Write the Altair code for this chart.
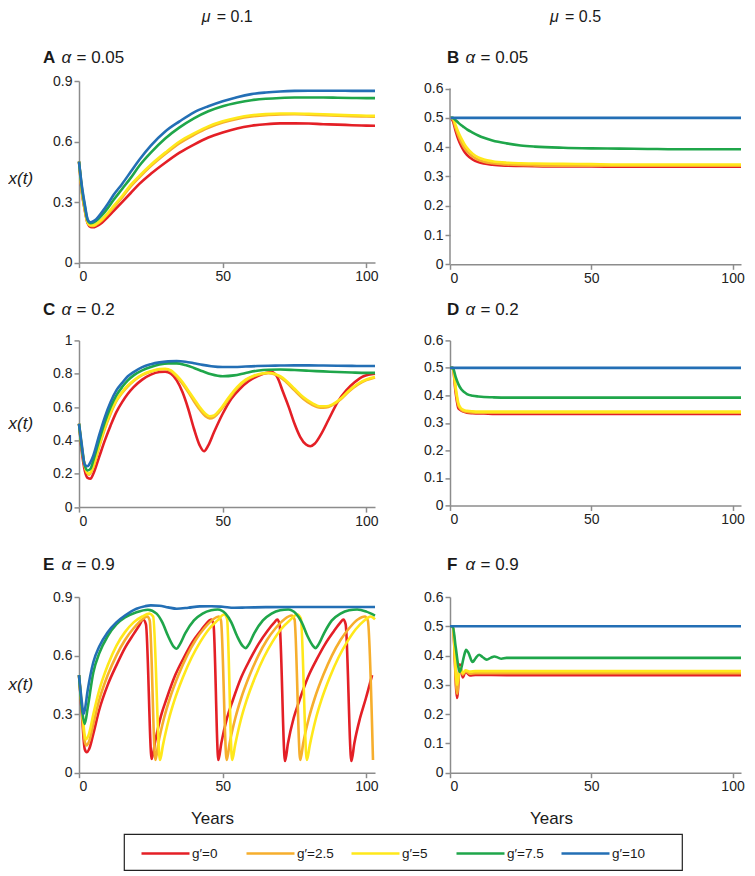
import altair as alt
import pandas as pd

FONT = "Liberation Sans"
SERIES = ["g′=0", "g′=2.5", "g′=5", "g′=7.5", "g′=10"]
COLORS = ["#e41f26", "#f6ae2d", "#ffe81a", "#1fa64a", "#236fb5"]

# ---------------- Panel A (mu=0.1, alpha=0.05)
A_T = [0, 1, 2, 3, 4, 5, 6, 8, 10, 12, 15, 18, 21, 25, 30, 35, 40, 45, 50, 55, 60, 65, 70, 75, 80, 85, 90, 95, 100, 103]
A_RED = [0.5, 0.35, 0.26, 0.195, 0.177, 0.175, 0.18, 0.198, 0.225, 0.255, 0.3, 0.345, 0.39, 0.44, 0.495, 0.545, 0.585, 0.62, 0.645, 0.665, 0.678, 0.686, 0.69, 0.69, 0.689, 0.686, 0.684, 0.681, 0.679, 0.678]
A_ORANGE = [0.5, 0.355, 0.265, 0.198, 0.183, 0.182, 0.188, 0.21, 0.24, 0.274, 0.323, 0.378, 0.423, 0.478, 0.538, 0.592, 0.633, 0.668, 0.694, 0.712, 0.724, 0.731, 0.734, 0.735, 0.733, 0.731, 0.728, 0.726, 0.724, 0.723]
A_YELLOW = [0.5, 0.36, 0.27, 0.2, 0.185, 0.185, 0.192, 0.215, 0.245, 0.28, 0.33, 0.385, 0.43, 0.485, 0.545, 0.6, 0.64, 0.675, 0.70, 0.718, 0.73, 0.736, 0.739, 0.739, 0.737, 0.735, 0.732, 0.73, 0.728, 0.727]
A_GREEN = [0.5, 0.37, 0.28, 0.21, 0.195, 0.198, 0.207, 0.235, 0.27, 0.31, 0.365, 0.42, 0.48, 0.545, 0.615, 0.67, 0.715, 0.75, 0.775, 0.792, 0.805, 0.812, 0.816, 0.818, 0.818, 0.818, 0.817, 0.816, 0.815, 0.815]
A_BLUE = [0.5, 0.38, 0.29, 0.215, 0.2, 0.205, 0.215, 0.25, 0.29, 0.335, 0.39, 0.45, 0.51, 0.58, 0.65, 0.70, 0.745, 0.775, 0.80, 0.82, 0.835, 0.843, 0.848, 0.851, 0.852, 0.852, 0.852, 0.851, 0.851, 0.851]

# ---------------- Panel B (mu=0.5, alpha=0.05)
B_T = [0, 1, 2, 3, 4, 5, 6, 8, 10, 12, 15, 20, 25, 30, 40, 50, 60, 70, 80, 90, 100, 103]
B_RED = [0.5, 0.49, 0.455, 0.425, 0.403, 0.386, 0.374, 0.358, 0.349, 0.344, 0.34, 0.337, 0.336, 0.335, 0.334, 0.334, 0.333, 0.333, 0.333, 0.333, 0.333, 0.333]
B_ORANGE = [0.5, 0.495, 0.465, 0.438, 0.416, 0.399, 0.386, 0.368, 0.357, 0.35, 0.345, 0.341, 0.339, 0.338, 0.337, 0.337, 0.337, 0.337, 0.337, 0.337, 0.337, 0.337]
B_YELLOW = [0.5, 0.5, 0.475, 0.45, 0.43, 0.412, 0.398, 0.378, 0.365, 0.358, 0.352, 0.347, 0.345, 0.344, 0.343, 0.342, 0.341, 0.341, 0.341, 0.341, 0.341, 0.341]
B_GREEN = [0.5, 0.5, 0.492, 0.483, 0.475, 0.468, 0.461, 0.45, 0.44, 0.432, 0.423, 0.413, 0.406, 0.402, 0.398, 0.396, 0.395, 0.394, 0.393, 0.393, 0.393, 0.393]
FLAT_T = [0, 103]
FLAT_BLUE = [0.5, 0.5]

# ---------------- Panel C (mu=0.1, alpha=0.2)
C_RED_T = [0, 1, 2, 3, 4, 5, 7, 9, 11, 13, 15, 17, 19, 22, 25, 28, 30, 32, 34, 36, 38, 40, 42, 43.5, 45, 47, 50, 53, 56, 59, 62, 65, 67, 69, 71, 73, 75, 77, 79, 80.5, 82, 84, 87, 90, 93, 96, 99, 103]
C_RED = [0.5, 0.33, 0.22, 0.175, 0.17, 0.2, 0.3, 0.4, 0.49, 0.57, 0.63, 0.68, 0.72, 0.765, 0.795, 0.81, 0.812, 0.8, 0.76, 0.69, 0.59, 0.47, 0.37, 0.335, 0.37, 0.45, 0.56, 0.65, 0.71, 0.755, 0.785, 0.805, 0.81, 0.78, 0.69, 0.6, 0.5, 0.42, 0.375, 0.365, 0.38, 0.43, 0.53, 0.63, 0.7, 0.75, 0.785, 0.80]
C_YEL_T = [0, 1, 2, 3, 3.5, 5, 7, 9, 11, 13, 15, 17, 19, 22, 25, 28, 30, 32, 34, 36, 38, 40, 42, 44, 45.5, 47, 49, 52, 55, 58, 61, 64, 66, 68, 70, 72, 75, 78, 81, 84, 86, 88, 91, 94, 97, 100, 103]
C_ORANGE = [0.5, 0.355, 0.245, 0.2, 0.195, 0.24, 0.36, 0.47, 0.56, 0.635, 0.685, 0.725, 0.757, 0.792, 0.812, 0.825, 0.827, 0.815, 0.783, 0.74, 0.69, 0.635, 0.585, 0.545, 0.532, 0.54, 0.575, 0.645, 0.712, 0.76, 0.786, 0.8, 0.803, 0.797, 0.78, 0.752, 0.7, 0.65, 0.615, 0.597, 0.598, 0.61, 0.645, 0.695, 0.735, 0.762, 0.778]
C_YELLOW = [0.5, 0.36, 0.25, 0.205, 0.2, 0.25, 0.37, 0.48, 0.57, 0.64, 0.69, 0.73, 0.76, 0.795, 0.815, 0.828, 0.83, 0.82, 0.79, 0.75, 0.7, 0.65, 0.6, 0.56, 0.545, 0.55, 0.585, 0.655, 0.72, 0.765, 0.79, 0.803, 0.806, 0.8, 0.785, 0.76, 0.71, 0.66, 0.625, 0.605, 0.605, 0.615, 0.65, 0.7, 0.74, 0.765, 0.78]
C_GB_T = [0, 1, 2, 3, 4, 5, 7, 9, 11, 13, 15, 17, 19, 22, 25, 28, 31, 34, 37, 40, 43, 46, 50, 54, 58, 62, 66, 70, 75, 80, 85, 90, 95, 100, 103]
C_GREEN = [0.5, 0.35, 0.25, 0.22, 0.23, 0.28, 0.4, 0.51, 0.6, 0.67, 0.72, 0.76, 0.79, 0.82, 0.84, 0.855, 0.862, 0.862, 0.852, 0.835, 0.815, 0.797, 0.785, 0.79, 0.805, 0.818, 0.824, 0.825, 0.822, 0.818, 0.814, 0.81, 0.807, 0.805, 0.805]
C_BLUE = [0.5, 0.37, 0.255, 0.245, 0.27, 0.31, 0.43, 0.54, 0.63, 0.7, 0.745, 0.785, 0.81, 0.84, 0.857, 0.868, 0.874, 0.876, 0.872, 0.863, 0.853, 0.845, 0.84, 0.84, 0.843, 0.846, 0.848, 0.849, 0.85, 0.85, 0.849, 0.848, 0.847, 0.846, 0.846]

# ---------------- Panel D (mu=0.5, alpha=0.2)
D_T = [0, 1, 2, 3, 4, 5, 6, 8, 10, 12, 15, 20, 30, 50, 103]
D_RED = [0.5, 0.5, 0.41, 0.352, 0.345, 0.34, 0.337, 0.335, 0.334, 0.334, 0.333, 0.333, 0.333, 0.333, 0.333]
D_ORANGE = [0.5, 0.5, 0.42, 0.362, 0.348, 0.342, 0.34, 0.338, 0.337, 0.337, 0.337, 0.337, 0.337, 0.337, 0.337]
D_YELLOW = [0.5, 0.5, 0.43, 0.37, 0.352, 0.346, 0.344, 0.342, 0.341, 0.341, 0.341, 0.341, 0.341, 0.341, 0.341]
D_GREEN = [0.5, 0.5, 0.467, 0.44, 0.422, 0.412, 0.405, 0.399, 0.396, 0.394, 0.393, 0.392, 0.392, 0.392, 0.392]

# ---------------- Panel E (mu=0.1, alpha=0.9)
E_RED_T = [0, 1, 2, 2.7, 3.5, 5, 7, 10, 13, 16, 19, 21, 22.3, 23.3, 25.3,
           26.5, 28.5, 30.5, 33.5, 36.5, 39.5, 42.5, 45, 46, 46.8, 48.5,
           49.5, 51.5, 53.5, 56.5, 59.5, 62.5, 65.5, 68, 69, 69.8, 71.7,
           72.7, 74.7, 76.7, 79.7, 82.7, 85.7, 88.7, 91, 92, 92.8, 94.8,
           95.8, 97.8, 99.8, 102]
E_RED = [0.5, 0.3, 0.12, 0.105, 0.12, 0.2, 0.32, 0.45, 0.55, 0.64, 0.71, 0.755, 0.785, 0.76, 0.07,
         0.16, 0.29, 0.38, 0.5, 0.59, 0.67, 0.73, 0.775, 0.785, 0.76, 0.065,
         0.15, 0.28, 0.37, 0.49, 0.58, 0.66, 0.725, 0.77, 0.785, 0.76, 0.06,
         0.15, 0.28, 0.37, 0.49, 0.58, 0.66, 0.725, 0.77, 0.785, 0.76, 0.06,
         0.15, 0.28, 0.38, 0.5]
E_ORA_T = [0, 1, 2, 2.6, 3.5, 5, 7, 10, 13, 16, 19, 22, 23.8, 24.6, 26.6,
           27.6, 29.6, 31.6, 34.6, 37.6, 40.6, 43.6, 46.6, 48.6, 49.4, 51.4,
           52.4, 54.4, 56.4, 59.4, 62.4, 65.4, 68.4, 71.4, 74, 75, 77,
           78, 80, 82, 85, 88, 91, 94, 97, 99.5, 100.5, 102.3]
E_ORANGE = [0.5, 0.32, 0.16, 0.14, 0.16, 0.25, 0.37, 0.5, 0.6, 0.68, 0.74, 0.785, 0.8, 0.78, 0.065,
            0.15, 0.28, 0.38, 0.5, 0.6, 0.68, 0.74, 0.785, 0.8, 0.78, 0.065,
            0.15, 0.28, 0.38, 0.5, 0.6, 0.68, 0.74, 0.785, 0.805, 0.785, 0.065,
            0.15, 0.28, 0.38, 0.5, 0.6, 0.68, 0.74, 0.785, 0.8, 0.78, 0.065]
E_YEL_T = [0, 1, 2, 2.4, 3.5, 5, 7, 10, 13, 16, 19, 22, 24.5, 25.8, 28.2,
           29.2, 31.2, 33.2, 36.2, 39.2, 42.2, 45.2, 48.2, 50.5, 51.5, 53.3,
           54.3, 56.3, 58.3, 61.3, 64.3, 67.3, 70.3, 73.3, 76, 77.2, 79.3,
           80.3, 82.3, 84.3, 87.3, 90.3, 93.3, 96.3, 99.3, 101.5, 103]
E_YELLOW = [0.5, 0.34, 0.19, 0.17, 0.2, 0.3, 0.42, 0.55, 0.65, 0.72, 0.77, 0.8, 0.815, 0.8, 0.065,
            0.14, 0.27, 0.37, 0.49, 0.59, 0.67, 0.735, 0.78, 0.81, 0.79, 0.065,
            0.14, 0.27, 0.37, 0.49, 0.59, 0.67, 0.735, 0.78, 0.81, 0.79, 0.065,
            0.14, 0.27, 0.37, 0.49, 0.59, 0.67, 0.735, 0.78, 0.8, 0.785]
E_GRN_T = [0, 1, 2, 3, 5, 7, 10, 13, 16, 20, 24,
           27, 29, 31, 33, 34, 35, 37, 40, 43, 46, 48.3,
           51, 53, 55, 57, 58, 59, 61, 64, 67, 70, 72.8,
           75.5, 77.5, 79.5, 81.5, 82.3, 83.3, 85.3, 88, 91, 94, 96.8, 100, 103]
E_GREEN = [0.5, 0.33, 0.25, 0.33, 0.515, 0.61, 0.7, 0.76, 0.795, 0.822, 0.835,
           0.815, 0.77, 0.7, 0.645, 0.635, 0.655, 0.715, 0.78, 0.815, 0.832, 0.836,
           0.815, 0.77, 0.7, 0.648, 0.638, 0.655, 0.715, 0.78, 0.815, 0.832, 0.836,
           0.815, 0.77, 0.7, 0.648, 0.638, 0.655, 0.715, 0.78, 0.815, 0.832, 0.836, 0.825, 0.805]
E_BLU_T = [0, 1, 1.5, 2, 3, 5, 7, 10, 13, 16, 20, 23, 25, 28, 31, 34, 38, 42, 46, 50, 54, 58, 65, 75, 85, 95, 103]
E_BLUE = [0.5, 0.36, 0.3, 0.32, 0.42, 0.567, 0.645, 0.72, 0.77, 0.805, 0.84, 0.853, 0.857, 0.855, 0.847, 0.84, 0.845, 0.852, 0.853, 0.85, 0.845, 0.846, 0.848, 0.849, 0.849, 0.849, 0.849]

# ---------------- Panel F (mu=0.5, alpha=0.9)
F_GRN_T = [0, 1, 2, 3.5, 5, 5.7, 6.5, 8, 9, 10.3, 11.5, 13, 14.5, 15.7, 17, 18.2, 20, 30, 60, 103]
F_GREEN = [0.5, 0.5, 0.43, 0.344, 0.4, 0.42, 0.41, 0.378, 0.39, 0.403, 0.395, 0.386, 0.393, 0.397, 0.393, 0.389, 0.392, 0.392, 0.392, 0.392]
F_T = [0, 1, 2.5, 3.5, 4.5, 5.5, 7, 9, 20, 103]
F_RED = [0.5, 0.5, 0.255, 0.37, 0.325, 0.345, 0.332, 0.334, 0.333, 0.333]
F_ORANGE = [0.5, 0.5, 0.27, 0.36, 0.335, 0.347, 0.338, 0.34, 0.34, 0.34]
F_YELLOW = [0.5, 0.5, 0.3, 0.36, 0.34, 0.35, 0.345, 0.347, 0.347, 0.347]

Y_09 = [0, 0.3, 0.6, 0.9]
Y_06 = [0, 0.1, 0.2, 0.3, 0.4, 0.5, 0.6]
Y_10 = [0, 0.2, 0.4, 0.6, 0.8, 1]

AXIS_GREY = "#8c8c8c"
INK = "#1a1a1a"
COLOR_SCALE = alt.Scale(domain=SERIES, range=COLORS)


def frame(pairs):
    rows = []
    for k, (ts, vs) in enumerate(pairs):
        for t, v in zip(ts, vs):
            rows.append({"t": t, "v": v, "s": SERIES[k]})
    return pd.DataFrame(rows)


def txt(s, x, y, size=17, weight="normal", style="normal"):
    return alt.Chart(pd.DataFrame({"lab": [s]})).mark_text(
        align="left", baseline="alphabetic", font=FONT, fontSize=size,
        fontWeight=weight, fontStyle=style, color=INK,
    ).encode(text="lab:N", x=alt.value(x), y=alt.value(y))


def panel(df, ydom, yvals, letter, alpha, w, h, lx, ly, left, bottom,
          mu=None, mux=0, muy=0, tdy=0, yearsx=None, axis_top=None):
    xa = dict(values=[0, 50, 100], title="Years" if bottom else None,
              titleFont=FONT, titleFontSize=17, titleFontWeight="normal",
              titleColor=INK, titlePadding=17)
    if yearsx is not None:
        xa["titleX"] = yearsx
    ya = dict(values=yvals, format="~g", title="x(t)" if left else None,
              titleAngle=0, titleX=-58.7, titleY=h / 2 + tdy, titleAlign="center",
              titleBaseline="middle", titleFont=FONT, titleFontSize=17,
              titleFontStyle="italic", titleFontWeight="normal", titleColor=INK)
    if axis_top is not None:
        ya["domain"] = False
    xscale = alt.Scale(domain=[0, 103], nice=False, zero=False)
    yscale = alt.Scale(domain=ydom, nice=False)
    lines = alt.Chart(df).mark_line(strokeWidth=2.6, interpolate="monotone").encode(
        x=alt.X("t:Q", scale=xscale, axis=alt.Axis(**xa)),
        y=alt.Y("v:Q", scale=yscale, axis=alt.Axis(**ya)),
        color=alt.Color("s:N", scale=COLOR_SCALE, legend=None),
    )
    layers = [lines]
    if axis_top is not None:
        # y-axis line that stops at the top tick, as in the original figure
        layers.append(alt.Chart(pd.DataFrame({"v": [0], "v2": [axis_top]})).mark_rule(
            color=AXIS_GREY, strokeWidth=1.5).encode(
                x=alt.value(0), y=alt.Y("v:Q", scale=yscale, axis=alt.Axis(**ya)), y2="v2:Q"))
    layers += [txt(letter, lx, ly, weight="bold"),
               txt("α", lx + 18.5, ly, style="italic"),
               txt("= " + alpha, lx + 33.5, ly)]
    if mu is not None:
        layers += [txt("μ", mux, muy, size=16, style="italic"),
                   txt("= " + mu, mux + 15, muy, size=16)]
    return alt.layer(*layers).properties(width=w, height=h)


WL, WR = 296, 291

pA = panel(frame([(A_T, A_RED), (A_T, A_ORANGE), (A_T, A_YELLOW), (A_T, A_GREEN), (A_T, A_BLUE)]),
           [0, 0.9], Y_09, "A", "0.05", WL, 181.6, -36, -18.4, True, False, "0.1", 122.7, -59.4, 7)
pB = panel(frame([(B_T, B_RED), (B_T, B_ORANGE), (B_T, B_YELLOW), (B_T, B_GREEN), (FLAT_T, FLAT_BLUE)]),
           [0, 0.626], Y_06, "B", "0.05", WR, 183.3, -3, -18.4, False, False, "0.5", 100, -59.4,
           axis_top=0.6)
pC = panel(frame([(C_RED_T, C_RED), (C_YEL_T, C_ORANGE), (C_YEL_T, C_YELLOW), (C_GB_T, C_GREEN), (C_GB_T, C_BLUE)]),
           [0, 1], Y_10, "C", "0.2", WL, 166.7, -36, -25, True, False)
pD = panel(frame([(D_T, D_RED), (D_T, D_ORANGE), (D_T, D_YELLOW), (D_T, D_GREEN), (FLAT_T, FLAT_BLUE)]),
           [0, 0.6], Y_06, "D", "0.2", WR, 165, -3, -25, False, False)
pE = panel(frame([(E_RED_T, E_RED), (E_ORA_T, E_ORANGE), (E_YEL_T, E_YELLOW), (E_GRN_T, E_GREEN), (E_BLU_T, E_BLUE)]),
           [0, 0.9], Y_09, "E", "0.9", WL, 175.7, -36, -26.7, True, True, yearsx=133)
pF = panel(frame([(F_T, F_RED), (F_T, F_ORANGE), (F_T, F_YELLOW), (F_GRN_T, F_GREEN), (FLAT_T, FLAT_BLUE)]),
           [0, 0.6], Y_06, "F", "0.9", WR, 175.7, -3, -26.7, False, True, yearsx=101)

row1 = alt.hconcat(pA, pB, spacing=42)
row2 = alt.hconcat(pC, pD, spacing=42)
row3 = alt.hconcat(pE, pF, spacing=42)
grid = alt.vconcat(alt.vconcat(row1, row2, spacing=15.4), row3, spacing=27)

# legend: a small unit whose frame is the legend box
leg_unit = alt.Chart(pd.DataFrame({"s": SERIES})).mark_line(strokeWidth=2.6).encode(
    x=alt.value(0), y=alt.value(0),
    color=alt.Color("s:N", scale=COLOR_SCALE, legend=alt.Legend(
        orient="none", legendX=16, legendY=-6, direction="horizontal", title=None,
        symbolType="stroke", symbolSize=2304, symbolStrokeWidth=2.6,
        labelFont=FONT, labelFontSize=13.5, labelColor=INK, labelOffset=1,
        gridAlign="all", columnPadding=12, padding=0)),
).properties(width=558, height=36, view=alt.ViewBackground(stroke="#222", strokeWidth=1.2))
spacer = alt.Chart(pd.DataFrame({"a": [0]})).mark_rule(opacity=0).encode(
    x=alt.value(0), y=alt.value(0), y2=alt.value(1)).properties(width=39, height=36)
legend_row = alt.hconcat(spacer, leg_unit, spacing=0).resolve_scale(color="independent")

chart = alt.vconcat(grid, legend_row, spacing=0).resolve_scale(color="independent").properties(
    padding=0
).configure_view(stroke=None).configure_axis(
    grid=False, domainColor=AXIS_GREY, domainWidth=1.5, tickColor=AXIS_GREY, tickWidth=1.5,
    tickSize=5, labelFont=FONT, labelFontSize=14, labelColor="#222", labelPadding=2,
)

chart.save("out.html", embed_options={"renderer": "svg", "actions": False})
